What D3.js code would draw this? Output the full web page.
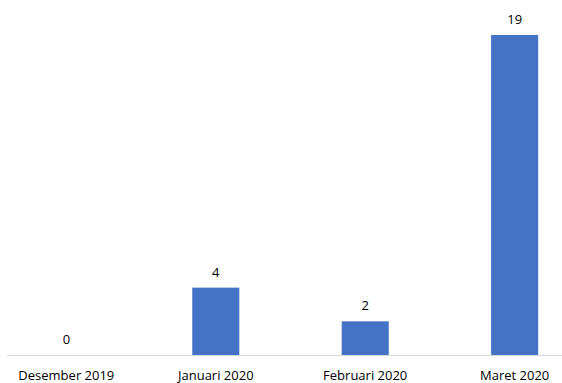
<!DOCTYPE html>
<html>
<head>
<meta charset="utf-8">
<script src="https://cdn.jsdelivr.net/npm/d3@7"></script>
<style>
  body { margin: 0; background: #fff; }
  text { font-family: "Open Sans", "Liberation Sans", sans-serif; fill: #000; }
</style>
</head>
<body>
<div id="chart"></div>
<script>
const categories = ['Desember 2019', 'Januari 2020', 'Februari 2020', 'Maret 2020'];
const values = [0, 4, 2, 19];

const width = 562;
const height = 383;

const svg = d3.select('#chart')
    .append('svg')
    .attr('width', width)
    .attr('height', height);

// Scales
const xScale = d3.scaleBand()
    .domain(categories)
    .range([-8, 589])
    .paddingInner(0.685)
    .paddingOuter(0.34);

const yScale = d3.scaleLinear()
    .domain([0, 19])
    .range([355, 35]);

// Baseline
svg.append('line')
    .attr('x1', 7)
    .attr('x2', width)
    .attr('y1', yScale(0) + 0.5)
    .attr('y2', yScale(0) + 0.5)
    .style('stroke', '#d9d9d9')
    .style('stroke-width', '1px');

// Bars
svg.selectAll('rect.bar')
    .data(values)
    .enter()
    .append('rect')
    .attr('class', 'bar')
    .attr('x', (d, i) => xScale(categories[i]))
    .attr('width', xScale.bandwidth())
    .attr('y', d => yScale(d))
    .attr('height', d => yScale(0) - yScale(d))
    .attr('fill', '#4472c4');

// Value labels
svg.selectAll('text.value')
    .data(values)
    .enter()
    .append('text')
    .attr('class', 'value')
    .attr('text-anchor', 'middle')
    .attr('x', (d, i) => xScale(categories[i]) + xScale.bandwidth() / 2)
    .attr('y', d => yScale(d) - 11)
    .style('font-size', '13px')
    .text(d => d);

// Category labels
svg.selectAll('text.cat')
    .data(categories)
    .enter()
    .append('text')
    .attr('class', 'cat')
    .attr('text-anchor', 'middle')
    .attr('x', d => xScale(d) + xScale.bandwidth() / 2)
    .attr('y', 380)
    .style('font-size', '13px')
    .text(d => d);
</script>
</body>
</html>
